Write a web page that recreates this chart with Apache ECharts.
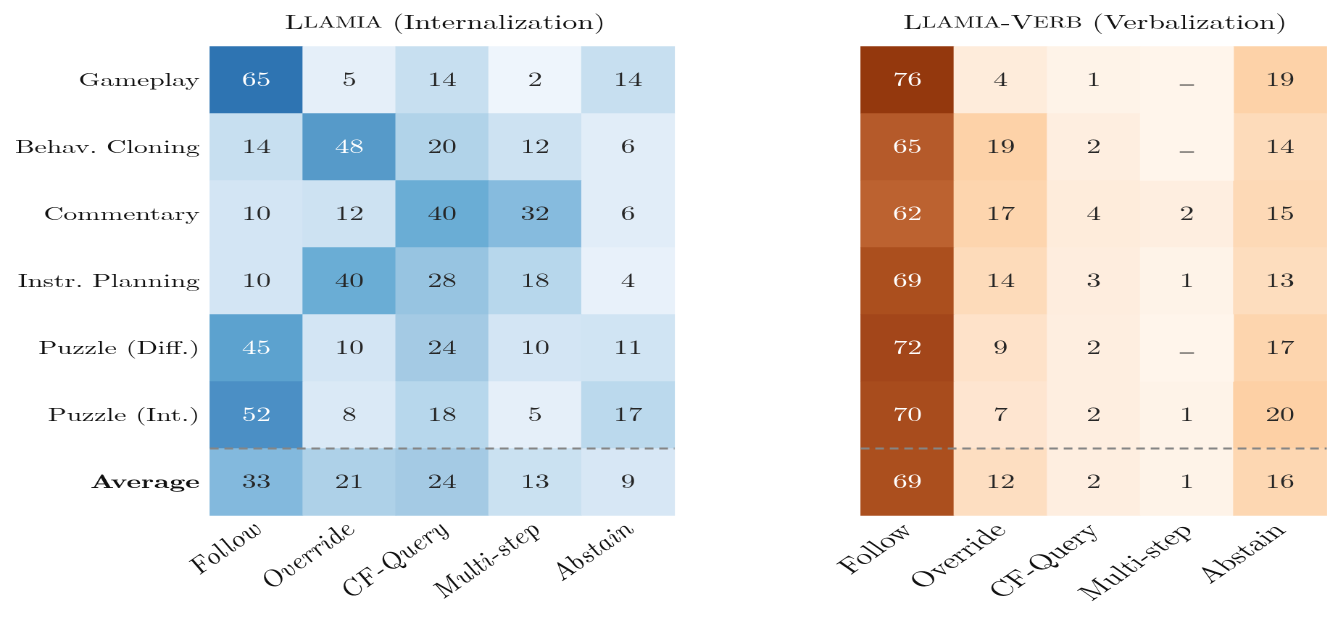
<!DOCTYPE html>
<html><head><meta charset="utf-8">
<script src="https://cdn.jsdelivr.net/npm/echarts@6/dist/echarts.min.js"></script>
<style>
html,body{margin:0;padding:0;background:#fff;overflow:hidden}
#wrap{width:1338px;height:625px;overflow:hidden}
#chart{width:923px;height:625px;transform:scaleX(1.4496);transform-origin:0 0}
</style></head><body><div id="wrap"><div id="chart"></div></div>
<script>
// ---- data ----
const tasks = ['Gameplay', 'Behav. Cloning', 'Commentary', 'Instr. Planning', 'Puzzle (Diff.)', 'Puzzle (Int.)', 'Average'];
const behaviours = ['Follow', 'Override', 'CF-Query', 'Multi-step', 'Abstain'];
const internalization = [
  [65, 5, 14, 2, 14],
  [14, 48, 20, 12, 6],
  [10, 12, 40, 32, 6],
  [10, 40, 28, 18, 4],
  [45, 10, 24, 10, 11],
  [52, 8, 18, 5, 17],
  [33, 21, 24, 13, 9]
];
const verbalization = [
  [76, 4, 1, null, 19],
  [65, 19, 2, null, 14],
  [62, 17, 4, 2, 15],
  [69, 14, 3, 1, 13],
  [72, 9, 2, null, 17],
  [70, 7, 2, 1, 20],
  [69, 12, 2, 1, 16]
];
const missingText = '_';

// ---- colour scales (style) ----
const blueStops = [[0,'#f7fbff'],[2,'#eef5fc'],[4,'#e8f1fa'],[6,'#e1edf8'],[10,'#d3e5f4'],[14,'#c7dff0'],[18,'#b7d7ec'],[20,'#b1d3e9'],[24,'#a4cae4'],[28,'#97c4e1'],[32,'#86bbde'],[40,'#6aadd5'],[45,'#5ca2cf'],[48,'#569ac9'],[52,'#4b8fc5'],[65,'#2e74b2'],[80,'#0d4f94']];
const orangeStops = [[0,'#fff5eb'],[1,'#fef3e8'],[2,'#feeee0'],[4,'#feecdb'],[7,'#fee5d0'],[9,'#fee2c9'],[12,'#fddec1'],[14,'#fddbba'],[17,'#fdd5ae'],[20,'#fdd0a5'],[40,'#ee9f68'],[62,'#bc6230'],[65,'#b55a2a'],[69,'#ab4f1e'],[72,'#a3461a'],[76,'#94380d'],[80,'#85300a']];
const VMAX = 80;
function hex2rgb(h){return [1,3,5].map(i=>parseInt(h.substr(i,2),16));}
function ramp(stops){
  const out=[];
  for(let v=0; v<=VMAX; v++){
    let k=0; while(k<stops.length-2 && stops[k+1][0]<v) k++;
    const [v0,c0]=stops[k],[v1,c1]=stops[k+1];
    const t=Math.min(1,Math.max(0,(v-v0)/(v1-v0)));
    const a=hex2rgb(c0),b=hex2rgb(c1);
    out.push('rgb('+a.map((x,i)=>Math.round(x+(b[i]-x)*t)).join(',')+')');
  }
  return out;
}

const FONT = "'Latin Modern Roman', 'Liberation Serif', serif";
const FS = 20;     // cell annotations
const AFS = 19;    // y-axis labels
const XFS = 22;    // x-axis labels
function cells(matrix){
  const d=[];
  matrix.forEach((row,i)=>row.forEach((v,j)=>{
    if(v!==null) d.push({value:[j,i,v], label:{color: v>=42?'#ffffff':'#262626'}});
  }));
  return d;
}
function missing(matrix){
  const d=[];
  matrix.forEach((row,i)=>row.forEach((v,j)=>{ if(v===null) d.push([j,i,0]); }));
  return d;
}

const grids=[
  {left:144.8, top:46.5, width:320.5, height:469},
  {left:593.8, top:46.5, width:321.4, height:469}
];
function xAxis(gi, italic){
  const st = italic ? 'italic' : 'normal';
  return {type:'category', gridIndex:gi, data:behaviours, position:'bottom',
    axisLine:{show:false}, axisTick:{show:false}, splitLine:{show:false},
    axisLabel:{rotate:45, interval:0, margin:11, fontFamily:FONT, fontSize:XFS, color:'#111', fontStyle:st,
      textStyle:{fontStyle:st}}};
}
function yAxis(gi, show){
  return {type:'category', gridIndex:gi, data:tasks, inverse:true,
    axisLine:{show:false}, axisTick:{show:false}, splitLine:{show:false},
    axisLabel:{show:show, margin:7, fontFamily:FONT, fontSize:AFS, color:'#111',
      formatter:v=> v==='Average' ? '{b|'+v+'}' : v,
      rich:{b:{fontWeight:'bold', fontFamily:FONT, fontSize:AFS, color:'#111'}}}};
}
const labelBase = {show:true, fontFamily:FONT, fontSize:FS, color:'#262626'};
const titleRich = {
  a:{fontFamily:FONT, fontSize:20.5, fontWeight:'normal', color:'#111'},
  s:{fontFamily:FONT, fontSize:16, fontWeight:'normal', color:'#111'}
};

const chart = echarts.init(document.getElementById('chart'), null, {renderer:'canvas', devicePixelRatio:2});
chart.setOption({
  backgroundColor:'#ffffff',
  animation:false,
  title:[
    {text:'{a|L}{s|LAMIA}{a| (Internalization)}', left:grids[0].left+grids[0].width/2-3, top:7, textAlign:'center', textStyle:{fontWeight:'normal', rich:titleRich}},
    {text:'{a|L}{s|LAMIA}{a|-V}{s|ERB}{a| (Verbalization)}', left:grids[1].left+grids[1].width/2-4, top:7, textAlign:'center', textStyle:{fontWeight:'normal', rich:titleRich}}
  ],
  grid:grids,
  xAxis:[xAxis(0,true), xAxis(1,false)],
  yAxis:[yAxis(0,true), yAxis(1,false)],
  visualMap:[
    {type:'continuous', show:false, seriesIndex:0, min:0, max:VMAX, dimension:2, inRange:{color:ramp(blueStops)}},
    {type:'continuous', show:false, seriesIndex:1, min:0, max:VMAX, dimension:2, inRange:{color:ramp(orangeStops)}}
  ],
  series:[
    {type:'heatmap', xAxisIndex:0, yAxisIndex:0, data:cells(internalization),
      label:Object.assign({formatter:p=>p.value[2]}, labelBase), emphasis:{disabled:true}},
    {type:'heatmap', xAxisIndex:1, yAxisIndex:1, data:cells(verbalization),
      label:Object.assign({formatter:p=>p.value[2]}, labelBase), emphasis:{disabled:true}},
    {type:'heatmap', xAxisIndex:1, yAxisIndex:1, data:missing(verbalization),
      itemStyle:{color:orangeStops[0][1]},
      label:Object.assign({}, labelBase, {fontFamily:"'Liberation Serif', serif", fontSize:19, offset:[0,-2], formatter:()=>missingText}),
      emphasis:{disabled:true}}
  ]
});

// dashed separator above the Average row, positioned through the axes
const lines=[];
[0,1].forEach(gi=>{
  const yPrev = chart.convertToPixel({yAxisIndex:gi}, tasks[tasks.length-2]);
  const yAvg = chart.convertToPixel({yAxisIndex:gi}, tasks[tasks.length-1]);
  const xFirst = chart.convertToPixel({xAxisIndex:gi}, behaviours[0]);
  const xLast = chart.convertToPixel({xAxisIndex:gi}, behaviours[behaviours.length-1]);
  const half = (xLast-xFirst)/(behaviours.length-1)/2;
  const y=(yPrev+yAvg)/2;
  lines.push({type:'line', z:100, shape:{x1:xFirst-half, y1:y, x2:xLast+half, y2:y},
    style:{stroke:'#858585', lineWidth:2, lineDash:[6,4]}});
});
chart.setOption({graphic:lines});
</script></body></html>
